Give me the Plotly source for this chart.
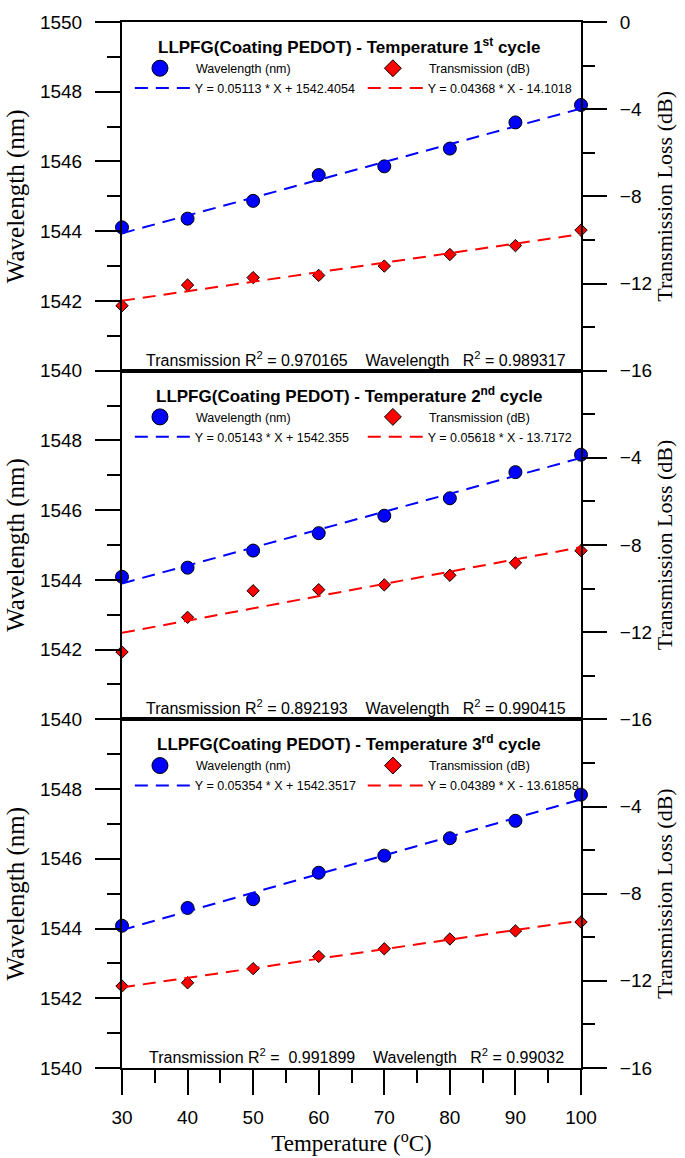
import plotly.graph_objects as go

# ---------------- data ----------------
temps = [30, 40, 50, 60, 70, 80, 90, 100]

wl1 = [1544.11, 1544.36, 1544.87, 1545.61, 1545.86, 1546.37, 1547.12, 1547.62]
tl1 = [-13.02, -12.07, -11.73, -11.63, -11.20, -10.67, -10.26, -9.55]
wl2 = [1544.09, 1544.35, 1544.84, 1545.34, 1545.84, 1546.34, 1547.09, 1547.59]
tl2 = [-12.91, -11.32, -10.10, -10.05, -9.83, -9.39, -8.82, -8.26]
wl3 = [1544.08, 1544.59, 1544.84, 1545.60, 1546.09, 1546.59, 1547.09, 1547.84]
tl3 = [-12.24, -12.09, -11.44, -10.88, -10.53, -10.08, -9.71, -9.30]

wl_slope = [0.05113, 0.05143, 0.05354]
wl_icpt = [1542.4054, 1542.355, 1542.3517]
tl_slope = [0.04368, 0.05618, 0.04389]
tl_icpt = [-14.1018, -13.7172, -13.61858]

wl_eq = ["Y = 0.05113 * X + 1542.4054", "Y = 0.05143 * X + 1542.355", "Y = 0.05354 * X + 1542.3517"]
tl_eq = ["Y = 0.04368 * X - 14.1018", "Y = 0.05618 * X - 13.7172", "Y = 0.04389 * X - 13.61858"]

tl_r2 = ["0.970165", "0.892193", "0.991899"]
wl_r2 = ["0.989317", "0.990415", "0.99032"]

cycles = ["1<sup>st</sup>", "2<sup>nd</sup>", "3<sup>rd</sup>"]

wl_ticks_top = [1540, 1542, 1544, 1546, 1548, 1550]
wl_ticks = [1540, 1542, 1544, 1546, 1548]
tl_ticks_top = [-16, -12, -8, -4, 0]
tl_ticks = [-16, -12, -8, -4]
x_ticks = [30, 40, 50, 60, 70, 80, 90, 100]

wl_series = [wl1, wl2, wl3]
tl_series = [tl1, tl2, tl3]

# ---------------- style ----------------
SANS = "Liberation Sans, Arial, sans-serif"
SERIF = "Liberation Serif, Times New Roman, serif"
W, H = 685, 1158
ML, MT = 122, 21
MR = W - 591
MB = H - 1076
PW = W - ML - MR
PH = H - MT - MB
BLUE = "#0000FF"
RED = "#FF0000"

def px2paperx(sx):
    return (sx - ML) / PW

def py2papery(sy):
    return (H - MB - sy) / PH

fig = go.Figure()
domains = [[2/3, 1.0], [1/3, 2/3], [0.0, 1/3]]
panel_top = [MT + i * PH / 3 for i in range(3)]

layout = dict(
    width=W, height=H,
    margin=dict(l=ML, r=MR, t=MT, b=MB),
    paper_bgcolor="white", plot_bgcolor="white",
    showlegend=True,
    annotations=[],
)

leg_id = 0
for p in range(3):
    xs = "x" if p == 0 else f"x{p+1}"
    yl = "y" if p == 0 else f"y{2*p+1}"
    yr = f"y{2*p+2}"
    xname = "xaxis" if p == 0 else f"xaxis{p+1}"
    ylname = "yaxis" if p == 0 else f"yaxis{2*p+1}"
    yrname = f"yaxis{2*p+2}"

    legs = []
    for k in range(4):
        leg_id += 1
        legs.append("legend" if leg_id == 1 else f"legend{leg_id}")

    # data markers
    fig.add_trace(go.Scatter(x=temps, y=wl_series[p], mode="markers", xaxis=xs, yaxis=yl,
                             marker=dict(symbol="circle", size=13, color=BLUE,
                                         line=dict(color="black", width=1)),
                             showlegend=False, cliponaxis=False))
    fig.add_trace(go.Scatter(x=temps, y=tl_series[p], mode="markers", xaxis=xs, yaxis=yr,
                             marker=dict(symbol="diamond", size=9.5, color=RED,
                                         line=dict(color="black", width=1)),
                             showlegend=False, cliponaxis=False))
    # fit lines
    xf = [temps[0], temps[-1]]
    fig.add_trace(go.Scatter(x=xf, y=[wl_slope[p] * v + wl_icpt[p] for v in xf], mode="lines",
                             xaxis=xs, yaxis=yl, name=wl_eq[p], legend=legs[2],
                             line=dict(color=BLUE, width=2, dash="13px,8px")))
    fig.add_trace(go.Scatter(x=xf, y=[tl_slope[p] * v + tl_icpt[p] for v in xf], mode="lines",
                             xaxis=xs, yaxis=yr, name=tl_eq[p], legend=legs[3],
                             line=dict(color=RED, width=2, dash="13px,8px")))
    # legend-only marker entries
    fig.add_trace(go.Scatter(x=[None], y=[None], mode="markers", xaxis=xs, yaxis=yl,
                             name="Wavelength (nm)", legend=legs[0],
                             marker=dict(symbol="circle", size=16, color=BLUE,
                                         line=dict(color="black", width=1))))
    fig.add_trace(go.Scatter(x=[None], y=[None], mode="markers", xaxis=xs, yaxis=yr,
                             name="Transmission (dB)", legend=legs[1],
                             marker=dict(symbol="diamond", size=13, color=RED,
                                         line=dict(color="black", width=1))))

    top = panel_top[p]
    row1 = top + 47
    row2 = top + 67
    leg_font = dict(family=SANS, size=12.5, color="black")
    common = dict(bgcolor="rgba(0,0,0,0)", borderwidth=0, font=leg_font,
                  xanchor="left", yanchor="middle", orientation="v", tracegroupgap=0)
    layout[legs[0]] = dict(x=px2paperx(124), y=py2papery(row1), itemwidth=62, **common)
    layout[legs[1]] = dict(x=px2paperx(362), y=py2papery(row1), itemwidth=62, **common)
    layout[legs[2]] = dict(x=px2paperx(130), y=py2papery(row2), itemwidth=55, **common)
    layout[legs[3]] = dict(x=px2paperx(368), y=py2papery(row2), itemwidth=55, **common)

    bottom = (p == 2)
    layout[xname] = dict(
        domain=[0, 1], range=[30, 100], anchor=yl,
        showline=True, linecolor="black", linewidth=2, mirror=True,
        showgrid=False, zeroline=False,
        ticks="outside" if bottom else "", tickvals=x_ticks if bottom else [],
        ticklen=25, tickwidth=2, tickcolor="black",
        showticklabels=bottom,
        tickfont=dict(family=SANS, size=19, color="black"),
        ticklabelstandoff=6,
        minor=dict(ticks="outside", dtick=5, tick0=30, ticklen=13, tickwidth=2, tickcolor="black") if bottom else dict(ticks=""),
        title=dict(text="Temperature (<sup>o</sup>C)" if bottom else "",
                   font=dict(family=SERIF, size=23, color="black"), standoff=2),
    )
    if p != 2:
        layout[xname]["matches"] = "x3"

    layout[ylname] = dict(
        domain=domains[p], range=[1540, 1550], anchor=xs,
        showline=True, linecolor="black", linewidth=2,
        showgrid=False, zeroline=False,
        ticks="outside", tickvals=wl_ticks_top if p == 0 else wl_ticks,
        ticklen=25, tickwidth=2, tickcolor="black",
        tickfont=dict(family=SANS, size=19, color="black"),
        ticklabelstandoff=9,
        minor=dict(ticks="outside", dtick=1, tick0=1540, ticklen=13, tickwidth=2, tickcolor="black"),
        title=dict(text="Wavelength (nm)", font=dict(family=SERIF, size=25, color="black"), standoff=8),
    )
    layout[yrname] = dict(
        domain=domains[p], range=[-16, 0], anchor=xs, overlaying=yl, side="right",
        showline=True, linecolor="black", linewidth=2,
        showgrid=False, zeroline=False,
        ticks="outside", tickvals=tl_ticks_top if p == 0 else tl_ticks,
        ticklen=24, tickwidth=2, tickcolor="black",
        tickfont=dict(family=SANS, size=19, color="black"),
        ticklabelstandoff=9,
        minor=dict(ticks="outside", dtick=2, tick0=0, ticklen=12, tickwidth=2, tickcolor="black"),
        title=dict(text="Transmission Loss (dB)", font=dict(family=SERIF, size=22, color="black"), standoff=6),
    )

    # panel title
    layout["annotations"].append(dict(
        xref="paper", yref=f"{yl} domain", x=0.495, y=1, yshift=-24,
        xanchor="center", yanchor="middle", showarrow=False,
        text=f"<b>LLPFG(Coating PEDOT) - Temperature {cycles[p]} cycle</b>",
        font=dict(family=SANS, size=17, color="black")))
    # R^2 text
    sp = "\u00a0"
    r2_text = (f"Transmission R<sup>2</sup> ={sp*2 if p == 2 else ' '}{tl_r2[p]}{sp*4}Wavelength{sp*3}"
               f"R<sup>2</sup> = {wl_r2[p]}")
    layout["annotations"].append(dict(
        xref="paper", yref=f"{yl} domain", x=0.51, y=0, yshift=12,
        xanchor="center", yanchor="middle", showarrow=False,
        text=r2_text, font=dict(family=SANS, size=16, color="black")))

fig.update_layout(**layout)
fig.write_html("out.html",
               config={"displayModeBar": False},
               post_script="document.body.style.margin='0px';document.body.style.overflow='hidden';")
